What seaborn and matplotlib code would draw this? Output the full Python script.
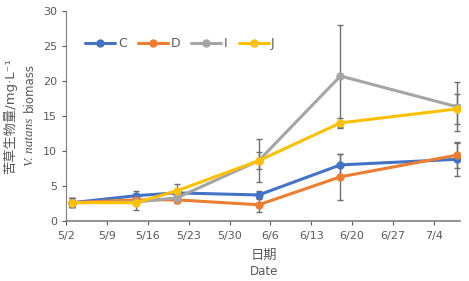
import pandas as pd
import numpy as np
import seaborn as sns
import matplotlib.pyplot as plt

# sampling dates and treatment means / errors
dates = ['2020-05-03', '2020-05-14', '2020-05-21', '2020-06-04', '2020-06-18', '2020-07-08']
groups = ['C', 'D', 'I', 'J']
c_mean = [2.6, 3.6, 4.0, 3.7, 8.0, 8.8]
d_mean = [2.6, 3.0, 3.0, 2.3, 6.3, 9.4]
i_mean = [2.6, 2.7, 3.3, 8.6, 20.7, 16.3]
j_mean = [2.6, 2.6, 4.3, 8.6, 14.0, 16.0]
c_err = [0.6, 0.6, 0.3, 0.6, 1.6, 2.4]
d_err = [0.6, 0.3, 0.4, 1.0, 3.3, 1.9]
i_err = [0.6, 1.2, 0.6, 3.1, 7.3, 3.5]
j_err = [0.6, 0.3, 1.0, 1.2, 0.7, 2.1]
tick_dates = ['2020-05-02', '2020-05-09', '2020-05-16', '2020-05-23', '2020-05-30',
              '2020-06-06', '2020-06-13', '2020-06-20', '2020-06-27', '2020-07-04']
tick_labels = ['5/2', '5/9', '5/16', '5/23', '5/30', '6/6', '6/13', '6/20', '6/27', '7/4']

means = {'C': c_mean, 'D': d_mean, 'I': i_mean, 'J': j_mean}
errs = {'C': c_err, 'D': d_err, 'I': i_err, 'J': j_err}
rows = []
for g in groups:
    for dt, m, e in zip(dates, means[g], errs[g]):
        rows.append({'date': pd.Timestamp(dt), 'group': g, 'mean': m, 'err': e})
df = pd.DataFrame(rows)

palette = {'C': '#4472C4', 'D': '#ED7D31', 'I': '#A5A5A5', 'J': '#FFC000'}

sns.set_style('white')
plt.rcParams['font.family'] = ['DejaVu Sans', 'Noto Sans CJK SC']
txt = '#595959'

fig, ax = plt.subplots(figsize=(4.69, 2.81), dpi=100)
fig.subplots_adjust(left=0.141, right=0.981, top=0.961, bottom=0.214)

# error bars first, under the lines
for g in groups:
    sub = df[df['group'] == g]
    ax.errorbar(sub['date'], sub['mean'], yerr=sub['err'], fmt='none',
                ecolor='#6f6f6f', elinewidth=1.0, capsize=2.5, capthick=1.0, zorder=1)

sns.lineplot(data=df, x='date', y='mean', hue='group', hue_order=groups,
             palette=palette, marker='o', markersize=6, markeredgewidth=0,
             linewidth=2.2, ax=ax, zorder=3)

ax.set_ylim(0, 30)
ax.set_yticks(range(0, 31, 5))
ax.set_xlim(pd.Timestamp('2020-05-02'), pd.Timestamp('2020-07-08 12:00'))
ax.set_xticks([pd.Timestamp(t) for t in tick_dates])
ax.set_xticklabels(tick_labels)

for s in ['top', 'right']:
    ax.spines[s].set_visible(False)
for s in ['left', 'bottom']:
    ax.spines[s].set_color('#7f7f7f')
ax.spines['bottom'].set_linewidth(1.2)
ax.tick_params(axis='both', colors=txt, labelsize=8, length=3, width=0.8,
               direction='out', left=True, bottom=True)
ax.tick_params(axis='x', pad=4)

ax.set_xlabel('')
ax.set_ylabel('')
fig.text(0.562, 0.09, '日期', color=txt, fontsize=9.5, ha='center', va='center',
         family=['Noto Sans CJK SC', 'DejaVu Sans'])
fig.text(0.562, 0.035, 'Date', color=txt, fontsize=8.5, ha='center', va='center')
fig.text(0.022, 0.585, '苦草生物量/mg·L⁻¹', color=txt, fontsize=9.5,
         rotation=90, ha='center', va='center')
# second line: italic species name + plain word
fig.text(0.063, 0.583, 'V. natans', color=txt, fontsize=9.5, style='italic',
         family='Liberation Serif', rotation=90, ha='center', va='top')
fig.text(0.063, 0.603, 'biomass', color=txt, fontsize=8.5,
         rotation=90, ha='center', va='bottom')

ax.legend(loc='upper left', bbox_to_anchor=(0.02, 0.93), ncol=4, frameon=False,
          fontsize=9, labelcolor=txt, handlelength=2.4, handletextpad=0.2,
          columnspacing=0.9, title=None)

fig.savefig('out.png', dpi=100)
